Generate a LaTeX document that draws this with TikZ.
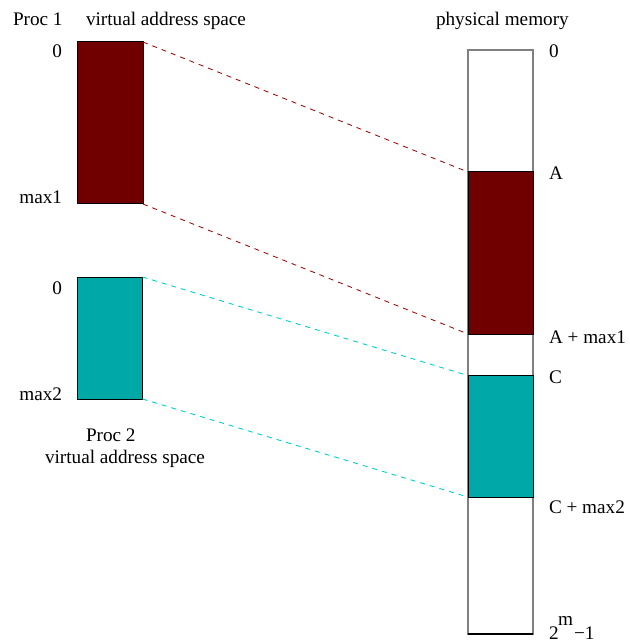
\documentclass[tikz,border=0pt]{standalone}
\usepackage{fontspec}
\setmainfont{Liberation Serif}
\definecolor{dred}{HTML}{700000}
\definecolor{dteal}{HTML}{00A8A8}
\definecolor{lred}{HTML}{A01010}
\definecolor{lcyan}{HTML}{00D0D0}
\definecolor{mgray}{HTML}{808080}
\begin{document}
\begin{tikzpicture}[x=1pt,y=-1pt,
  font=\fontsize{19.2}{23}\selectfont,
  blk/.style={draw=black, line width=1pt, inner sep=0pt, outer sep=0pt},
  lbl/.style={inner sep=0pt, outer sep=0pt},
  reddash/.style={draw=lred, dash pattern=on 5pt off 5pt, line width=0.9pt},
  cyandash/.style={draw=lcyan, dash pattern=on 5pt off 5pt, line width=0.9pt}]
\useasboundingbox (0,0) rectangle (629,644);
\node[blk, draw=mgray, line width=1.2pt, fill=white, minimum width=65pt, minimum height=584pt] (mem) at (500.5,342) {};
\draw[black, line width=1.2pt] (mem.south west) -- (mem.south east);
\node[blk, fill=dred, minimum width=66pt, minimum height=162pt] (p1) at (110,123) {};
\node[blk, fill=dteal, minimum width=65pt, minimum height=122pt] (p2) at (110,338) {};
\node[blk, fill=dred, minimum width=65pt, minimum height=162pt] (ma) at (500.5,253) {};
\node[blk, fill=dteal, minimum width=65pt, minimum height=121.5pt] (mc) at (500.5,436.3) {};
% mapping lines
\draw[reddash] (p1.north east) -- (ma.north west);
\draw[reddash] (p1.south east) -- (ma.south west);
\draw[cyandash] (p2.north east) -- (mc.north west);
\draw[cyandash] (p2.south east) -- (mc.south west);
% titles
\node[lbl, anchor=base west] (t1) at (13,26) {Proc 1};
\node[lbl, anchor=base west] (t2) at (86,26) {virtual address space};
\node[lbl, anchor=base west] (t3) at (436,26) {physical memory};
\node[lbl, anchor=base west] (t4) at (86,441) {Proc 2};
\node[lbl, anchor=base west] (t5) at (45,463) {virtual address space};
% left labels
\node[lbl, anchor=base east] (l1) at (62,58) {0};
\node[lbl, anchor=base east] (l2) at (62,204) {max1};
\node[lbl, anchor=base east] (l3) at (62,294) {0};
\node[lbl, anchor=base east] (l4) at (62,400) {max2};
% right labels
\node[lbl, anchor=base west] (r1) at (549,58) {0};
\node[lbl, anchor=base west] (r2) at (549,180) {A};
\node[lbl, anchor=base west] (r3) at (549,343) {A + max1};
\node[lbl, anchor=base west] (r4) at (549,383) {C};
\node[lbl, anchor=base west] (r5) at (549,513) {C + max2};
\node[lbl, anchor=base west] (r6) at (549,639) {2};
\node[lbl, anchor=base west] (r7) at (558,625) {m};
\node[lbl, anchor=base west] (r8) at (574,639) {−1};
\end{tikzpicture}
\end{document}
